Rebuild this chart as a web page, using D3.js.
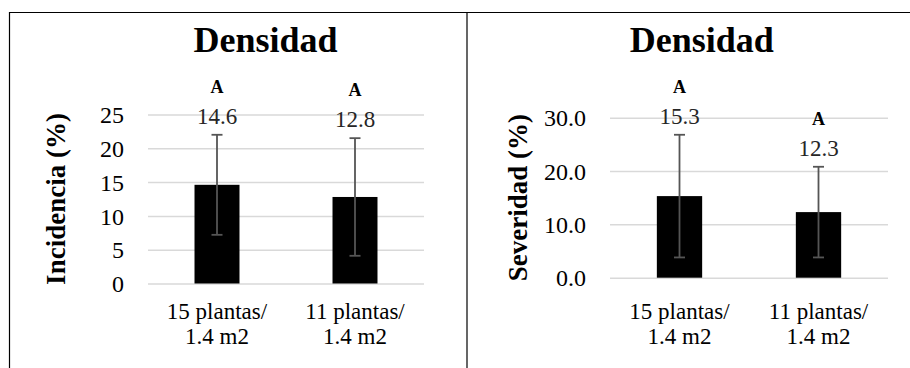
<!DOCTYPE html>
<html>
<head>
<meta charset="utf-8">
<script src="https://cdn.jsdelivr.net/npm/d3@7"></script>
<style>
  html, body { margin: 0; padding: 0; background: #fff; }
  svg { display: block; }
  text { font-family: "Liberation Serif", "Times New Roman", serif; }
</style>
</head>
<body>
<svg id="chart" width="910" height="368"></svg>
<script>
// ---- data ----
const categories = [["15 plantas/", "1.4 m2"], ["11 plantas/", "1.4 m2"]];
const incidencia = [14.6, 12.8];
const incidenciaErr = [7.4, 8.7];
const severidad = [15.3, 12.3];
const severidadErr = [11.5, 8.5];
const incidenciaTicks = [0, 5, 10, 15, 20, 25];
const severidadTicks = [0, 10, 20, 30];
const letters = ["A", "A"];
const chartTitle = "Densidad";
const incidenciaLabel = "Incidencia (%)";
const severidadLabel = "Severidad (%)";

const svg = d3.select("#chart");
svg.append("rect").attr("width", 910).attr("height", 368).attr("fill", "#fff");

// frame lines
svg.append("line").attr("x1", 9.5).attr("x2", 910).attr("y1", 12.5).attr("y2", 12.5)
  .attr("stroke", "#000").attr("stroke-width", 1.2);
svg.append("line").attr("x1", 9.5).attr("x2", 9.5).attr("y1", 12).attr("y2", 368)
  .attr("stroke", "#000").attr("stroke-width", 1.2);
svg.append("line").attr("x1", 467).attr("x2", 467).attr("y1", 12).attr("y2", 368)
  .attr("stroke", "#000").attr("stroke-width", 1.2);

function drawPanel(o) {
  const g = svg.append("g");
  const x = d3.scaleBand().domain(d3.range(o.values.length))
    .range([o.x0, o.x1]).paddingInner(0.674).paddingOuter(0.337);
  const y = d3.scaleLinear().domain([0, o.max]).range([o.y0, o.y1]);

  // title
  g.append("text").attr("x", o.titleX).attr("y", 52).attr("text-anchor", "middle")
    .attr("font-size", 36).attr("font-weight", "bold").attr("fill", "#000").text(chartTitle);

  // y axis (gridlines + labels)
  const axis = d3.axisLeft(y).tickValues(o.ticks).tickFormat(d3.format(o.fmt))
    .tickSize(-(o.x1 - o.x0)).tickPadding(24);
  const ag = g.append("g").attr("transform", `translate(${o.x0},0)`).call(axis);
  ag.select(".domain").remove();
  ag.selectAll(".tick line").attr("stroke", "#d9d9d9").attr("stroke-width", 1.5);
  ag.selectAll(".tick text").attr("font-size", 24).attr("fill", "#000").attr("dy", "0.34em");

  // y title
  g.append("text")
    .attr("transform", `translate(${o.ytX},${(o.y0 + o.y1) / 2}) rotate(-90)`)
    .attr("text-anchor", "middle").attr("dominant-baseline", "central")
    .attr("font-size", 27).attr("font-weight", "bold").attr("fill", "#000").text(o.yLabel);

  // bars
  g.selectAll("rect.bar").data(o.values).join("rect").attr("class", "bar")
    .attr("x", (d, i) => x(i)).attr("width", x.bandwidth())
    .attr("y", d => y(d)).attr("height", d => y(0) - y(d)).attr("fill", "#000");

  // error bars
  const cx = i => x(i) + x.bandwidth() / 2;
  const eg = g.append("g").attr("stroke", "#555555").attr("stroke-width", 1.8);
  o.values.forEach((v, i) => {
    const hi = y(v + o.errs[i]), lo = y(v - o.errs[i]);
    eg.append("line").attr("x1", cx(i)).attr("x2", cx(i)).attr("y1", hi).attr("y2", lo);
    eg.append("line").attr("x1", cx(i) - 5.5).attr("x2", cx(i) + 5.5).attr("y1", hi).attr("y2", hi);
    eg.append("line").attr("x1", cx(i) - 5.5).attr("x2", cx(i) + 5.5).attr("y1", lo).attr("y2", lo);
  });

  // value labels
  o.values.forEach((v, i) => {
    const ly = y(v + o.errs[i]) - 11;
    g.append("text").attr("x", cx(i)).attr("y", ly).attr("text-anchor", "middle")
      .attr("font-size", 23).attr("fill", "#262626").text(d3.format(".1f")(v));
    g.append("text").attr("x", cx(i)).attr("y", ly - 31).attr("text-anchor", "middle")
      .attr("font-size", 18).attr("font-weight", "bold").attr("fill", "#000").text(letters[i]);
  });

  // category labels
  categories.forEach((lines, i) => {
    const t = g.append("text").attr("x", cx(i)).attr("y", 319).attr("text-anchor", "middle")
      .attr("font-size", 23).attr("fill", "#000");
    lines.forEach((s, k) => t.append("tspan").attr("x", cx(i)).attr("dy", k === 0 ? 0 : 25).text(s));
  });
}

drawPanel({ values: incidencia, errs: incidenciaErr, ticks: incidenciaTicks, max: 25, fmt: "d",
  x0: 148, x1: 424, y0: 283.5, y1: 114.5, titleX: 265.5, ytX: 56, yLabel: incidenciaLabel });
drawPanel({ values: severidad, errs: severidadErr, ticks: severidadTicks, max: 30, fmt: ".1f",
  x0: 610, x1: 888, y0: 277.7, y1: 117.7, titleX: 701.7, ytX: 518, yLabel: severidadLabel });
</script>
</body>
</html>
